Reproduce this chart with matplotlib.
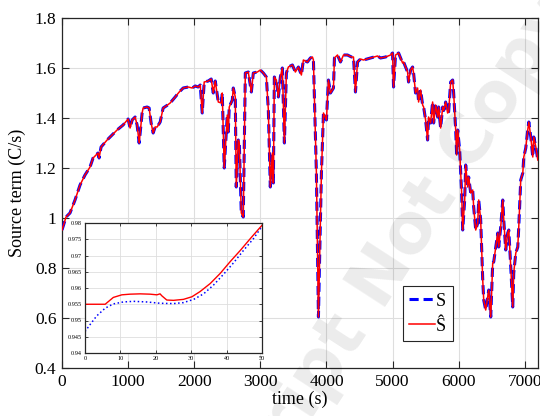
import matplotlib
matplotlib.use("Agg")
import matplotlib.pyplot as plt
from matplotlib.ticker import FuncFormatter

plt.rcParams['font.family'] = ['Liberation Serif', 'DejaVu Serif']

# source term over the whole run (S and S-hat overlap at this scale)
t_main = [0, 61, 121, 197, 273, 348, 424, 470, 545, 561, 591, 682, 758, 833, 924,
          1000, 1030, 1061, 1106, 1136, 1167, 1212, 1227, 1288, 1318, 1348, 1379,
          1409, 1439, 1485, 1530, 1576, 1636, 1712, 1773, 1833, 1909, 1970, 2015,
          2060, 2091, 2121, 2151, 2212, 2257, 2288, 2318, 2364, 2409, 2424, 2454,
          2500, 2515, 2530, 2576, 2591, 2621, 2636, 2667, 2682, 2712, 2742, 2773,
          2818, 2864, 2894, 2955, 3000, 3045, 3091, 3121, 3151, 3182, 3197, 3212,
          3242, 3273, 3303, 3333, 3364, 3394, 3424, 3485, 3530, 3576, 3621, 3651,
          3712, 3757, 3788, 3803, 3848, 3879, 3894, 3924, 3955, 4000, 4030, 4061,
          4106, 4121, 4167, 4212, 4258, 4318, 4379, 4409, 4439, 4470, 4515, 4561,
          4667, 4773, 4818, 4894, 4970, 5000, 5015, 5045, 5091, 5152, 5167, 5227,
          5242, 5273, 5303, 5318, 5348, 5379, 5394, 5424, 5455, 5470, 5500, 5530,
          5545, 5576, 5606, 5621, 5652, 5682, 5697, 5727, 5758, 5773, 5803, 5833,
          5848, 5879, 5909, 5924, 5955, 5970, 5985, 6015, 6045, 6061, 6091, 6106,
          6136, 6151, 6182, 6212, 6227, 6258, 6288, 6303, 6333, 6364, 6379, 6409,
          6439, 6455, 6485, 6515, 6530, 6561, 6591, 6606, 6636, 6667, 6682, 6712,
          6742, 6758, 6788, 6818, 6833, 6864, 6894, 6909, 6939, 6970, 6985, 7015,
          7045, 7061, 7091, 7121, 7136, 7167, 7197]
s_main = [0.952, 1.004, 1.020, 1.072, 1.132, 1.172, 1.204, 1.240, 1.260, 1.240, 1.284,
          1.312, 1.332, 1.352, 1.372, 1.396, 1.360, 1.392, 1.404, 1.372, 1.300, 1.420,
          1.440, 1.444, 1.440, 1.380, 1.340, 1.364, 1.364, 1.384, 1.440, 1.448, 1.460,
          1.484, 1.504, 1.520, 1.524, 1.520, 1.528, 1.524, 1.532, 1.420, 1.544, 1.548,
          1.556, 1.500, 1.548, 1.464, 1.460, 1.500, 1.200, 1.412, 1.344, 1.444, 1.472,
          1.520, 1.484, 1.124, 1.312, 1.300, 1.020, 1.004, 1.580, 1.584, 1.504, 1.580,
          1.584, 1.592, 1.580, 1.564, 1.432, 1.124, 1.260, 1.140, 1.564, 1.552, 1.484,
          1.564, 1.600, 1.300, 1.580, 1.604, 1.612, 1.584, 1.604, 1.572, 1.632, 1.624,
          1.640, 1.644, 1.632, 1.180, 0.604, 0.804, 1.180, 1.420, 1.392, 1.552, 1.500,
          1.520, 1.640, 1.652, 1.624, 1.652, 1.652, 1.644, 1.644, 1.504, 1.624, 1.636,
          1.632, 1.640, 1.648, 1.640, 1.644, 1.652, 1.660, 1.524, 1.652, 1.660, 1.620,
          1.624, 1.584, 1.544, 1.592, 1.604, 1.580, 1.500, 1.520, 1.464, 1.512, 1.452,
          1.444, 1.392, 1.312, 1.404, 1.380, 1.464, 1.380, 1.452, 1.404, 1.444, 1.360,
          1.444, 1.430, 1.464, 1.420, 1.424, 1.544, 1.552, 1.500, 1.352, 1.252, 1.352,
          1.272, 1.100, 0.952, 1.072, 1.212, 1.124, 1.164, 1.100, 1.112, 1.044, 0.952,
          0.980, 1.072, 0.992, 0.752, 0.672, 0.632, 0.684, 0.712, 0.604, 0.820, 0.824,
          0.884, 0.940, 0.884, 0.964, 1.072, 0.992, 0.872, 0.940, 0.952, 0.804, 0.644,
          0.780, 0.860, 0.884, 0.964, 1.152, 1.180, 1.244, 1.280, 1.352, 1.384, 1.324,
          1.244, 1.324, 1.284, 1.232]

# first 50 s, zoomed
t_zoom_s = [0, 1.4, 3.3, 5.7, 8, 10.8, 13.7, 17.5, 21.2, 25, 27.8, 30.7, 33.5,
            36.3, 39.2, 42, 44.8, 47.6, 50]
s_zoom = [0.9466, 0.9487, 0.9514, 0.9538, 0.9551, 0.9557, 0.9559, 0.9557, 0.9553,
          0.9552, 0.9555, 0.9565, 0.9582, 0.9609, 0.9643, 0.9678, 0.9716, 0.9752,
          0.9790]
t_zoom_h = [0, 5.7, 8, 10.4, 12.7, 15.6, 18.4, 20.3, 21.2, 21.7, 23.1, 25, 27.8,
            30.2, 32.5, 35.4, 38.2, 41, 43.9, 46.7, 50]
shat_zoom = [0.955, 0.955, 0.9571, 0.9579, 0.9581, 0.9582, 0.9581, 0.9579, 0.9582,
             0.9576, 0.9563, 0.9562, 0.9565, 0.9573, 0.9589, 0.9614, 0.9645, 0.9681,
             0.9716, 0.9752, 0.9793]

fig = plt.figure(figsize=(5.4, 4.16), dpi=100)
ax = fig.add_axes([62 / 540, 48 / 416, 476 / 540, 350 / 416])

ax.plot(t_main, s_main, color='#0000ff', ls='--', lw=2.2, dashes=(3, 1.6), label='S', zorder=3)
ax.plot(t_main, s_main, color='#ff0000', lw=1.1, label='Ŝ', zorder=4)

ax.set_xlim(0, 7200)
ax.set_ylim(0.4, 1.8)
ax.set_xticks(range(0, 7001, 1000))
ax.set_yticks([0.4, 0.6, 0.8, 1.0, 1.2, 1.4, 1.6, 1.8])
ax.yaxis.set_major_formatter(FuncFormatter(lambda v, p: f'{v:g}'))
ax.tick_params(direction='in', top=True, right=True, labelsize=12.5, length=5,
               width=0.8, color='#262626', pad=4)
ax.grid(True, color='#dedede', lw=0.8)
for sp in ax.spines.values():
    sp.set_color('#262626')
    sp.set_linewidth(0.9)
ax.set_xlabel('time (s)', fontsize=13, labelpad=1)
ax.set_ylabel('Source term (C/s)', fontsize=13, labelpad=6)

leg = ax.legend(loc='lower left', bbox_to_anchor=(0.716, 0.077), fontsize=13,
                handlelength=1.45, handletextpad=0.05, borderpad=0.35,
                labelspacing=0.45, fancybox=False, framealpha=1,
                edgecolor='#262626', borderaxespad=0)
leg.get_frame().set_linewidth(0.8)

# inset
axi = fig.add_axes([85 / 540, 63 / 416, 177 / 540, 130 / 416])
axi.plot(t_zoom_s, s_zoom, color='#0000ff', ls=':', lw=1.1)
axi.plot(t_zoom_h, shat_zoom, color='#ff0000', lw=1.0)
axi.set_xlim(0, 50)
axi.set_ylim(0.94, 0.98)
axi.set_xticks(range(0, 51, 10))
axi.set_yticks([0.94, 0.945, 0.95, 0.955, 0.96, 0.965, 0.97, 0.975, 0.98])
axi.yaxis.set_major_formatter(FuncFormatter(lambda v, p: f'{v:g}'))
axi.tick_params(direction='in', top=True, right=True, labelsize=4.5, length=2.5,
                width=0.6, color='#262626', pad=2)
axi.grid(True, color='#dedede', lw=0.6)
for sp in axi.spines.values():
    sp.set_color('#262626')
    sp.set_linewidth(0.9)

# watermark
fig.text(382 / 540, 1 - 312 / 416, 'Accepted Manuscript ', rotation=57,
         rotation_mode='anchor', ha='right', va='baseline', fontsize=50,
         fontweight='bold', family='DejaVu Sans', color='black', alpha=0.08, zorder=20)
fig.text(382 / 540, 1 - 312 / 416, 'Not Copyedited', rotation=57,
         rotation_mode='anchor', ha='left', va='baseline', fontsize=50,
         fontweight='bold', family='DejaVu Sans', color='black', alpha=0.08, zorder=20)

fig.savefig('out.png', dpi=100)
